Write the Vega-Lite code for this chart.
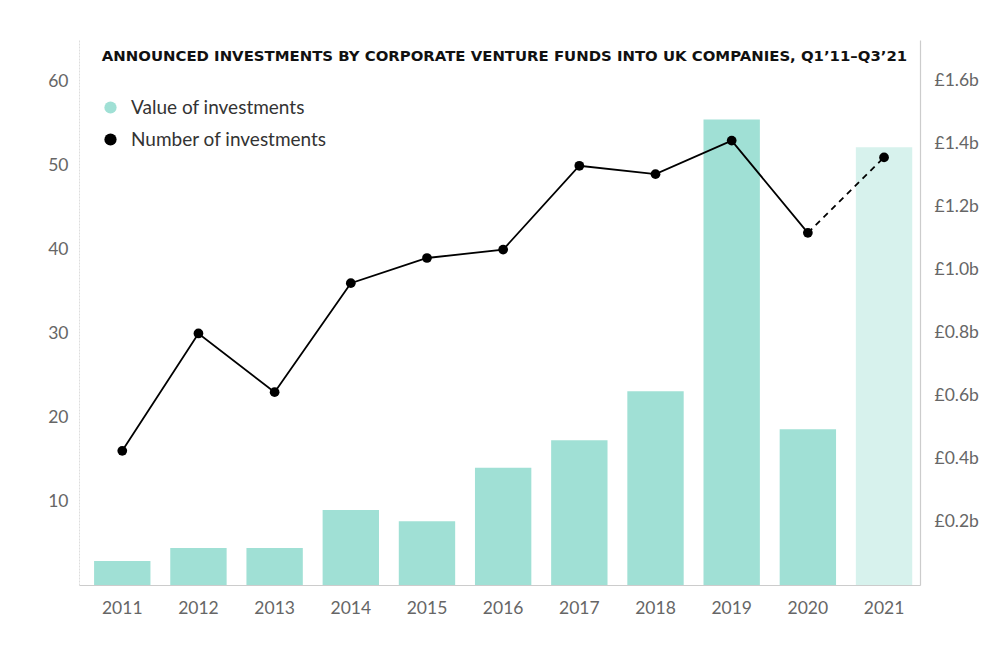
{
  "$schema": "https://vega.github.io/schema/vega-lite/v6.json",
  "width": 841,
  "height": 545,
  "autosize": {"type": "none"},
  "padding": {"left": 79, "top": 40, "right": 80, "bottom": 63},
  "background": "white",
  "title": {
    "text": "ANNOUNCED INVESTMENTS BY CORPORATE VENTURE FUNDS INTO UK COMPANIES, Q1’11–Q3’21",
    "anchor": "middle",
    "orient": "top",
    "offset": 0,
    "dx": 5,
    "dy": 24,
    "font": "DejaVu Sans",
    "fontSize": 14.9,
    "fontWeight": "bold",
    "color": "#111111"
  },
  "data": {
    "values": [
      {"year": 2011, "value": 0.076, "count": 16, "series": "Value of investments"},
      {"year": 2012, "value": 0.117, "count": 30, "series": "Value of investments"},
      {"year": 2013, "value": 0.117, "count": 23, "series": "Value of investments"},
      {"year": 2014, "value": 0.238, "count": 36, "series": "Value of investments"},
      {"year": 2015, "value": 0.202, "count": 39, "series": "Value of investments"},
      {"year": 2016, "value": 0.372, "count": 40, "series": "Value of investments"},
      {"year": 2017, "value": 0.459, "count": 50, "series": "Value of investments"},
      {"year": 2018, "value": 0.615, "count": 49, "series": "Value of investments"},
      {"year": 2019, "value": 1.477, "count": 53, "series": "Value of investments"},
      {"year": 2020, "value": 0.494, "count": 42, "series": "Value of investments"},
      {"year": 2021, "value": 1.389, "count": 51, "series": "Value of investments"}
    ]
  },
  "encoding": {
    "x": {
      "field": "year",
      "type": "ordinal",
      "scale": {"paddingInner": 0.26, "paddingOuter": 0.15, "align": 0.66},
      "axis": {
        "title": null,
        "labelAngle": 0,
        "ticks": false,
        "domainColor": "#cccccc",
        "domainWidth": 1.2,
        "labelFontSize": 17.5,
        "labelColor": "#666666",
        "labelPadding": 14,
        "labelFont": "Lato"
      }
    }
  },
  "layer": [
    {
      "mark": {"type": "bar"},
      "encoding": {
        "y": {
          "field": "value",
          "type": "quantitative",
          "scale": {"domain": [0, 1.729], "nice": false, "zero": true},
          "axis": {
            "orient": "right",
            "title": null,
            "values": [0.2, 0.4, 0.6, 0.8, 1.0, 1.2, 1.4, 1.6],
            "labelExpr": "'£' + format(datum.value, '.1f') + 'b'",
            "grid": false,
            "ticks": false,
            "domainColor": "#cccccc",
            "domainWidth": 1.2,
            "labelFontSize": 17.5,
            "labelColor": "#666666",
            "labelPadding": 14,
            "labelFont": "Lato"
          }
        },
        "color": {
          "field": "series",
          "type": "nominal",
          "scale": {
            "domain": ["Value of investments", "Number of investments"],
            "range": ["#a0e0d5", "#000000"]
          },
          "legend": {
            "title": null,
            "orient": "none",
            "legendX": 22,
            "legendY": 58,
            "symbolType": "circle",
            "symbolSize": 150,
            "symbolStrokeWidth": 0,
            "labelFontSize": 19,
            "labelColor": "#333333",
            "labelFont": "Lato",
            "labelOffset": 11,
            "labelLimit": 400,
            "rowPadding": 12
          }
        },
        "opacity": {
          "condition": {"test": "datum.year == 2021", "value": 0.42},
          "value": 1
        }
      }
    },
    {
      "encoding": {
        "y": {
          "field": "count",
          "type": "quantitative",
          "scale": {"domain": [0, 65], "nice": false},
          "axis": {
            "orient": "left",
            "title": null,
            "values": [10, 20, 30, 40, 50, 60],
            "grid": false,
            "ticks": false,
            "domainColor": "#dddddd",
            "domainDash": [2, 1],
            "labelFontSize": 17.5,
            "labelColor": "#666666",
            "labelPadding": 11,
            "labelFont": "Lato"
          }
        }
      },
      "layer": [
        {
          "transform": [{"filter": "datum.year <= 2020"}],
          "mark": {"type": "line", "color": "#000000", "strokeWidth": 1.8},
          "encoding": {}
        },
        {
          "transform": [{"filter": "datum.year >= 2020"}],
          "mark": {"type": "line", "color": "#000000", "strokeWidth": 1.8, "strokeDash": [6, 5]},
          "encoding": {}
        },
        {
          "mark": {"type": "point", "filled": true, "color": "#000000", "size": 95, "opacity": 1},
          "encoding": {}
        }
      ]
    }
  ],
  "resolve": {"scale": {"y": "independent"}},
  "config": {
    "view": {"stroke": null},
    "font": "Lato"
  }
}
